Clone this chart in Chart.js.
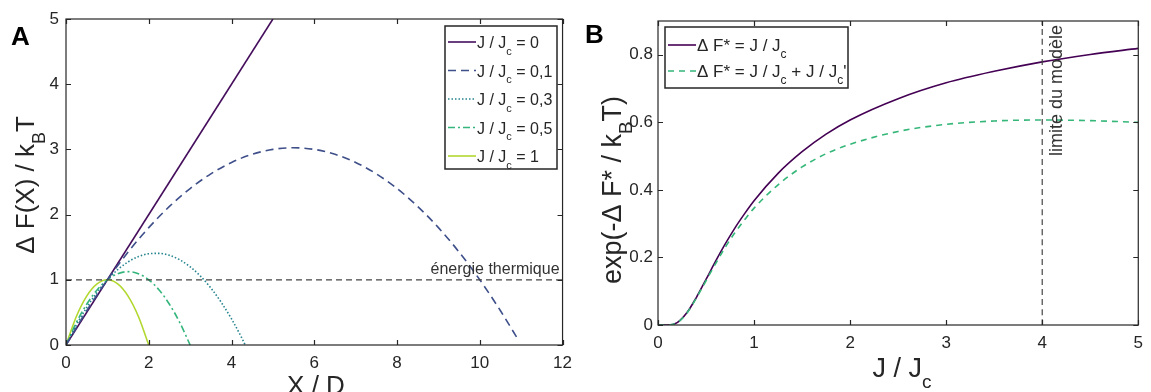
<!DOCTYPE html>
<html>
<head>
<meta charset="utf-8">
<script src="https://cdn.jsdelivr.net/npm/chart.js@4/dist/chart.umd.min.js"></script>
<style>
  html, body { margin: 0; padding: 0; background: #fff; }
  #wrap { position: relative; width: 1151px; height: 392px; }
  .panel { position: absolute; top: 0; height: 392px; }
  #pa { left: 0; width: 580px; }
  #pb { left: 580px; width: 571px; }
</style>
</head>
<body>
<div id="wrap">
  <div class="panel" id="pa"><canvas id="chartA"></canvas></div>
  <div class="panel" id="pb"><canvas id="chartB"></canvas></div>
</div>
<script>
// --- panneau A : profils d'énergie ---
const xTicksA = [0, 2, 4, 6, 8, 10, 12];
const yTicksA = [0, 1, 2, 3, 4, 5];

const xJ0 = [0, 5];
const yJ0 = [0, 5];

const xJ01 = [0, 0.5, 1, 1.5, 2, 2.5, 3, 3.5, 4, 4.5, 5, 5.5, 6, 6.5, 7, 7.5, 8, 8.5, 9, 9.5, 10, 10.5, 10.9];
const yJ01 = [0, 0.525, 1.0, 1.425, 1.8, 2.125, 2.4, 2.625, 2.8, 2.925, 3.0, 3.025, 3.0, 2.925, 2.8, 2.625, 2.4, 2.125, 1.8, 1.425, 1.0, 0.525, 0.11];

const xJ03 = [0, 0.25, 0.5, 0.75, 1, 1.25, 1.5, 1.75, 2, 2.25, 2.5, 2.75, 3, 3.25, 3.5, 3.75, 4, 4.25, 4.33];
const yJ03 = [0, 0.306, 0.575, 0.806, 1.0, 1.156, 1.275, 1.356, 1.4, 1.406, 1.375, 1.306, 1.2, 1.056, 0.875, 0.656, 0.4, 0.106, 0];

const xJ05 = [0, 0.25, 0.5, 0.75, 1, 1.25, 1.5, 1.75, 2, 2.25, 2.5, 2.75, 3];
const yJ05 = [0, 0.344, 0.625, 0.844, 1.0, 1.094, 1.125, 1.094, 1.0, 0.844, 0.625, 0.344, 0];

const xJ1 = [0, 0.25, 0.5, 0.75, 1, 1.25, 1.5, 1.75, 2];
const yJ1 = [0, 0.4375, 0.75, 0.9375, 1, 0.9375, 0.75, 0.4375, 0];

const thermalX = [0, 12];
const thermalY = [1, 1];

const legendValuesA = ['0', '0,1', '0,3', '0,5', '1'];

// --- panneau B : exp(-dF*/kBT) ---
const xTicksB = [0, 1, 2, 3, 4, 5];
const yTicksB = [0, 0.2, 0.4, 0.6, 0.8];

const jVals = [0, 0.1, 0.2, 0.3, 0.4, 0.5, 0.6, 0.7, 0.8, 0.9, 1, 1.25, 1.5, 1.75, 2, 2.5, 3, 3.5, 4, 4.5, 5];
const expSimple = [0, 0, 0.007, 0.036, 0.082, 0.135, 0.189, 0.240, 0.287, 0.329, 0.368, 0.449, 0.513, 0.565, 0.607, 0.670, 0.717, 0.751, 0.779, 0.801, 0.819];
const expCorrige = [0, 0, 0.007, 0.035, 0.080, 0.131, 0.182, 0.230, 0.273, 0.311, 0.346, 0.415, 0.468, 0.507, 0.535, 0.573, 0.594, 0.604, 0.607, 0.605, 0.600];

const limiteX = [4, 4];
const limiteY = [0, 0.9];

const FONT = "'Liberation Sans', Arial, sans-serif";
const INK = '#262626';
Chart.defaults.font.family = FONT;
Chart.defaults.font.size = 17;
Chart.defaults.color = INK;
Chart.defaults.animation = false;

const pts = (xs, ys) => xs.map((x, i) => ({ x: x, y: ys[i] }));

function line(label, xs, ys, color, dash, width) {
  return {
    label: label,
    data: pts(xs, ys),
    showLine: true,
    borderColor: color,
    borderWidth: width || 1.6,
    borderDash: dash || [],
    pointRadius: 0,
    cubicInterpolationMode: 'monotone',
    fill: false
  };
}

// texte avec indices
function richWidth(ctx, parts, size) {
  let w = 0;
  for (const p of parts) {
    ctx.font = (p.sub ? Math.round(size * 0.7) : size) + 'px ' + FONT;
    w += ctx.measureText(p.t).width;
  }
  return w;
}
function richText(ctx, parts, x, y, size) {
  let cx = x;
  ctx.textAlign = 'left';
  ctx.textBaseline = 'alphabetic';
  for (const p of parts) {
    ctx.font = (p.sub ? Math.round(size * 0.7) : size) + 'px ' + FONT;
    ctx.fillText(p.t, cx, p.sub ? y + size * 0.42 : y);
    cx += ctx.measureText(p.t).width;
  }
}

// cadre + graduations intérieures, style MATLAB
const frameTicks = {
  id: 'frameTicks',
  afterDatasetsDraw(chart) {
    const { ctx, chartArea: a, scales: { x, y } } = chart;
    ctx.save();
    ctx.strokeStyle = INK;
    ctx.lineWidth = 1.2;
    ctx.strokeRect(a.left, a.top, a.right - a.left, a.bottom - a.top);
    ctx.beginPath();
    for (const t of x.ticks) {
      const px = Math.round(x.getPixelForValue(t.value)) + 0.5;
      ctx.moveTo(px, a.bottom); ctx.lineTo(px, a.bottom - 5);
      ctx.moveTo(px, a.top); ctx.lineTo(px, a.top + 5);
    }
    for (const t of y.ticks) {
      const py = Math.round(y.getPixelForValue(t.value)) + 0.5;
      ctx.moveTo(a.left, py); ctx.lineTo(a.left + 5, py);
      ctx.moveTo(a.right, py); ctx.lineTo(a.right - 5, py);
    }
    ctx.stroke();
    ctx.restore();
  }
};

function drawLegend(ctx, box, rows, size) {
  ctx.save();
  ctx.fillStyle = '#fff';
  ctx.fillRect(box.x, box.y, box.w, box.h);
  ctx.strokeStyle = INK;
  ctx.lineWidth = 1.5;
  ctx.strokeRect(box.x, box.y, box.w, box.h);
  rows.forEach((r, i) => {
    const yy = box.y + box.first + i * box.step;
    ctx.strokeStyle = r.color;
    ctx.lineWidth = 1.6;
    ctx.setLineDash(r.dash || []);
    ctx.beginPath();
    ctx.moveTo(box.x + 3, yy);
    ctx.lineTo(box.x + 31, yy);
    ctx.stroke();
    ctx.setLineDash([]);
    ctx.fillStyle = INK;
    richText(ctx, r.parts, box.x + 32, yy + 6, size);
  });
  ctx.restore();
}

function axisTitles(ctx, yParts, yc, xParts, xc, size) {
  ctx.save();
  ctx.fillStyle = INK;
  ctx.translate(yc.x, yc.y);
  ctx.rotate(-Math.PI / 2);
  richText(ctx, yParts, -richWidth(ctx, yParts, size) / 2, 0, size);
  ctx.restore();
  ctx.save();
  ctx.fillStyle = INK;
  richText(ctx, xParts, xc.x - richWidth(ctx, xParts, size) / 2, xc.y, size);
  ctx.restore();
}

function fixedTicks(values) {
  return function (scale) { scale.ticks = values.map(v => ({ value: v })); };
}

// ---------- Panneau A ----------
const colorsA = ['#450e5c', '#3e4f8a', '#24838e', '#33b57b', '#b2d830'];
const dashesA = [[], [8, 5], [1.5, 2], [7, 3, 2, 3], []];

const decorA = {
  id: 'decorA',
  afterDraw(chart) {
    const ctx = chart.ctx;
    const { x, y } = chart.scales;
    // énergie thermique
    ctx.save();
    ctx.fillStyle = '#333';
    ctx.font = '16px ' + FONT;
    ctx.textAlign = 'right';
    ctx.textBaseline = 'alphabetic';
    ctx.fillText('énergie thermique', x.getPixelForValue(12) - 3, y.getPixelForValue(1) - 6);
    ctx.restore();

    drawLegend(ctx, { x: 445, y: 26, w: 112, h: 143, first: 16, step: 28.5 },
      legendValuesA.map((v, i) => ({
        color: colorsA[i], dash: dashesA[i],
        parts: [{ t: 'J / J' }, { t: 'c', sub: true }, { t: ' = ' + v }]
      })), 16);

    axisTitles(ctx,
      [{ t: 'Δ F(X) / k' }, { t: 'B', sub: true }, { t: 'T' }], { x: 34, y: 185 },
      [{ t: 'X / D' }], { x: 316, y: 394 }, 26);

    ctx.save();
    ctx.fillStyle = '#000';
    ctx.font = 'bold 26px ' + FONT;
    ctx.textAlign = 'left';
    ctx.fillText('A', 11, 45);
    ctx.restore();
  }
};

new Chart(document.getElementById('chartA').getContext('2d'), {
  type: 'scatter',
  data: {
    datasets: [
      line('thermique', thermalX, thermalY, '#444', [6, 4], 1.2),
      line('J/Jc = 0,1', xJ01, yJ01, colorsA[1], dashesA[1]),
      line('J/Jc = 0,3', xJ03, yJ03, colorsA[2], dashesA[2]),
      line('J/Jc = 0,5', xJ05, yJ05, colorsA[3], dashesA[3]),
      line('J/Jc = 1', xJ1, yJ1, colorsA[4], dashesA[4]),
      line('J/Jc = 0', xJ0, yJ0, colorsA[0], dashesA[0])
    ]
  },
  options: {
    responsive: true,
    maintainAspectRatio: false,
    layout: { padding: { left: 26, right: 15, top: 19, bottom: 0 } },
    plugins: { legend: { display: false }, tooltip: { enabled: false } },
    scales: {
      x: {
        type: 'linear', min: 0, max: 12,
        afterBuildTicks: fixedTicks(xTicksA),
        afterFit: s => { s.height = 47; },
        grid: { display: false, drawTicks: false },
        border: { display: false },
        ticks: { padding: 8, maxRotation: 0, callback: v => String(v) }
      },
      y: {
        type: 'linear', min: 0, max: 5,
        afterBuildTicks: fixedTicks(yTicksA),
        afterFit: s => { s.width = 40; },
        grid: { display: false, drawTicks: false },
        border: { display: false },
        ticks: { padding: 7, callback: v => String(v) }
      }
    }
  },
  plugins: [frameTicks, decorA]
});

// ---------- Panneau B ----------
const decorB = {
  id: 'decorB',
  afterDraw(chart) {
    const ctx = chart.ctx;
    const { x } = chart.scales;
    ctx.save();
    ctx.fillStyle = '#333';
    ctx.font = '18px ' + FONT;
    ctx.translate(x.getPixelForValue(4) + 15, 25);
    ctx.rotate(-Math.PI / 2);
    ctx.textAlign = 'right';
    ctx.textBaseline = 'middle';
    ctx.fillText('limite du modèle', 0, 0);
    ctx.restore();

    drawLegend(ctx, { x: 85, y: 27, w: 183, h: 61, first: 18, step: 26 }, [
      { color: '#440154', dash: [], parts: [{ t: 'Δ F* = J / J' }, { t: 'c', sub: true }] },
      { color: '#35b779', dash: [6, 5], parts: [{ t: 'Δ F* = J / J' }, { t: 'c', sub: true }, { t: ' + J / J' }, { t: 'c', sub: true }, { t: "'" }] }
    ], 17);

    axisTitles(ctx,
      [{ t: 'exp(-Δ F* / k' }, { t: 'B', sub: true }, { t: 'T)' }], { x: 41, y: 190 },
      [{ t: 'J / J' }, { t: 'c', sub: true }], { x: 322, y: 377 }, 27);

    ctx.save();
    ctx.fillStyle = '#000';
    ctx.font = 'bold 26px ' + FONT;
    ctx.textAlign = 'left';
    ctx.fillText('B', 5, 43);
    ctx.restore();
  }
};

new Chart(document.getElementById('chartB').getContext('2d'), {
  type: 'scatter',
  data: {
    datasets: [
      line('limite', limiteX, limiteY, '#444', [6, 4], 1.2),
      line('ΔF* = J/Jc + J/Jc\'', jVals, expCorrige, '#35b779', [6, 5]),
      line('ΔF* = J/Jc', jVals, expSimple, '#440154', [])
    ]
  },
  options: {
    responsive: true,
    maintainAspectRatio: false,
    layout: { padding: { left: 28, right: 7, top: 21, bottom: 0 } },
    plugins: { legend: { display: false }, tooltip: { enabled: false } },
    scales: {
      x: {
        type: 'linear', min: 0, max: 5,
        afterBuildTicks: fixedTicks(xTicksB),
        afterFit: s => { s.height = 67; },
        grid: { display: false, drawTicks: false },
        border: { display: false },
        ticks: { padding: 8, maxRotation: 0, callback: v => String(v) }
      },
      y: {
        type: 'linear', min: 0, max: 0.9,
        afterBuildTicks: fixedTicks(yTicksB),
        afterFit: s => { s.width = 50; },
        grid: { display: false, drawTicks: false },
        border: { display: false },
        ticks: { padding: 5, callback: v => String(Math.round(v * 10) / 10) }
      }
    }
  },
  plugins: [frameTicks, decorB]
});
</script>
</body>
</html>
